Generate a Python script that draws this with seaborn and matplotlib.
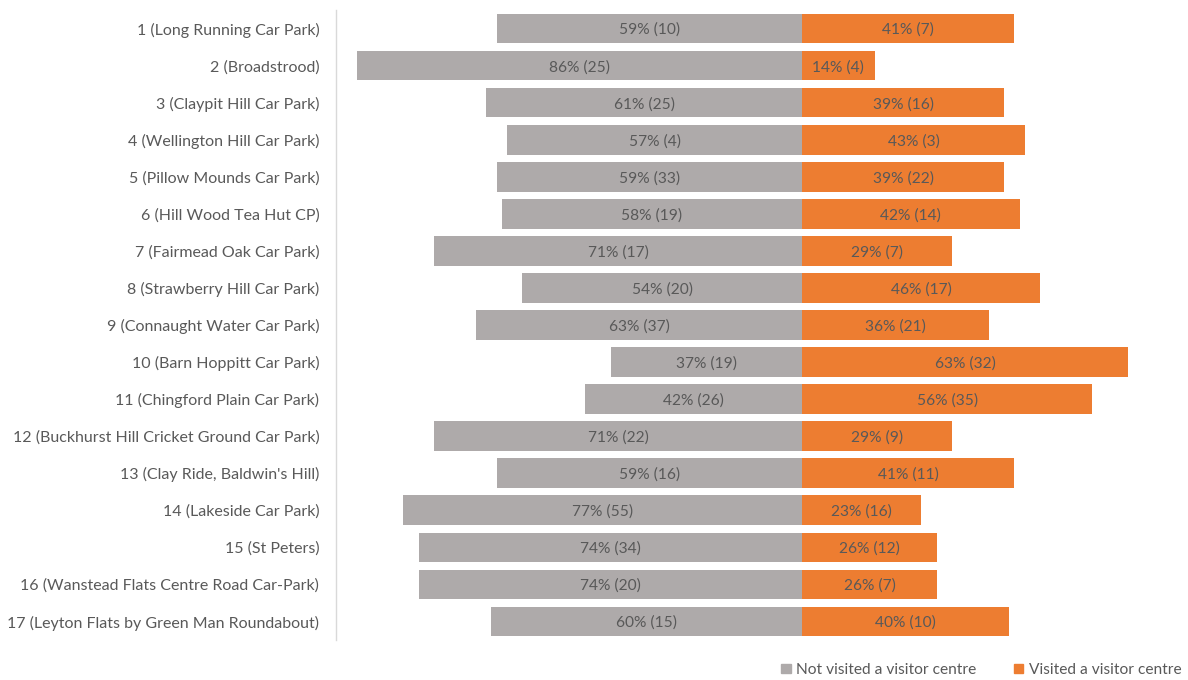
import matplotlib
matplotlib.use("Agg")
import matplotlib.pyplot as plt
import seaborn as sns
import pandas as pd
from matplotlib.patches import Patch

sites = [
    "1 (Long Running Car Park)",
    "2 (Broadstrood)",
    "3 (Claypit Hill Car Park)",
    "4 (Wellington Hill Car Park)",
    "5 (Pillow Mounds Car Park)",
    "6 (Hill Wood Tea Hut CP)",
    "7 (Fairmead Oak Car Park)",
    "8 (Strawberry Hill Car Park)",
    "9 (Connaught Water Car Park)",
    "10 (Barn Hoppitt Car Park)",
    "11 (Chingford Plain Car Park)",
    "12 (Buckhurst Hill Cricket Ground Car Park)",
    "13 (Clay Ride, Baldwin's Hill)",
    "14 (Lakeside Car Park)",
    "15 (St Peters)",
    "16 (Wanstead Flats Centre Road Car-Park)",
    "17 (Leyton Flats by Green Man Roundabout)",
]
not_visited_pct = [59, 86, 61, 57, 59, 58, 71, 54, 63, 37, 42, 71, 59, 77, 74, 74, 60]
not_visited_n = [10, 25, 25, 4, 33, 19, 17, 20, 37, 19, 26, 22, 16, 55, 34, 20, 15]
visited_pct = [41, 14, 39, 43, 39, 42, 29, 46, 36, 63, 56, 29, 41, 23, 26, 26, 40]
visited_n = [7, 4, 16, 3, 22, 14, 7, 17, 21, 32, 35, 9, 11, 16, 12, 7, 10]

GREY = "#AEAAAA"
ORANGE = "#ED7D31"
TEXT = "#595959"
FS = 11.2
FS_TICK = 11.5

sns.set_theme(style="white")
plt.rcParams["font.family"] = ["Lato", "DejaVu Sans"]

df = pd.DataFrame({
    "site": sites,
    "not_visited": [-v for v in not_visited_pct],
    "visited": visited_pct,
})

fig = plt.figure(figsize=(11.88, 6.8), dpi=100)
ax = fig.add_axes([336 / 1188, 40 / 680, 1 - 336 / 1188, 630 / 680])

sns.barplot(data=df, x="not_visited", y="site", color=GREY, orient="h",
            width=0.8, saturation=1, linewidth=0, ax=ax)
sns.barplot(data=df, x="visited", y="site", color=ORANGE, orient="h",
            width=0.8, saturation=1, linewidth=0, ax=ax)

for i in range(len(sites)):
    ax.text(-not_visited_pct[i] / 2, i, f"{not_visited_pct[i]}% ({not_visited_n[i]})",
            ha="center", va="center_baseline", fontsize=FS, color=TEXT)
    ax.text(visited_pct[i] / 2, i, f"{visited_pct[i]}% ({visited_n[i]})",
            ha="center", va="center_baseline", fontsize=FS, color=TEXT)

ax.set_xlim(-90, 74.5)
ax.set_ylim(16.5, -0.5)
ax.set_xlabel("")
ax.set_ylabel("")
ax.set_xticks([])
ax.tick_params(axis="y", length=0, pad=12, labelsize=FS_TICK, labelcolor=TEXT)
for side in ["top", "right", "bottom"]:
    ax.spines[side].set_visible(False)
ax.spines["left"].set_color("#D9D9D9")
ax.spines["left"].set_linewidth(1)

handles = [Patch(color=GREY, label="Not visited a visitor centre"),
           Patch(color=ORANGE, label="Visited a visitor centre")]
fig.legend(handles=handles, loc="center right", bbox_to_anchor=(1.006, 10 / 680),
           ncol=2, frameon=False, fontsize=FS, labelcolor=TEXT,
           handlelength=0.6, handleheight=0.6, handletextpad=0.35, columnspacing=2.4)

fig.savefig("out.png", dpi=100)
